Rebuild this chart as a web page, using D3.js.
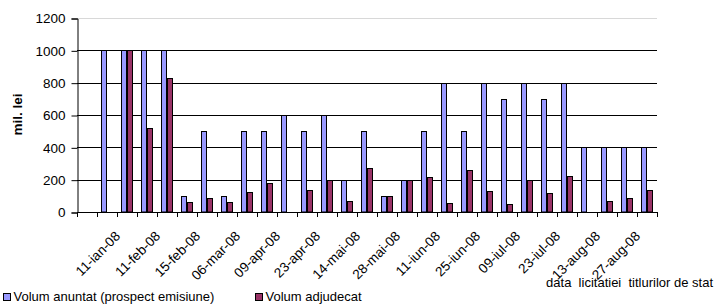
<!DOCTYPE html>
<html>
<head>
<meta charset="utf-8">
<script src="https://cdn.jsdelivr.net/npm/d3@7"></script>
<style>
  html, body { margin: 0; padding: 0; background: #fff; }
  svg { display: block; font-family: Arial, "Liberation Sans", sans-serif; }
</style>
</head>
<body>
<svg id="chart" width="715" height="304"></svg>
<script>
// ---- data ----
const categoryLabels = ["", "11-ian-08", "", "11-feb-08", "", "15-feb-08", "", "06-mar-08", "", "09-apr-08",
  "", "23-apr-08", "", "14-mai-08", "", "28-mai-08", "", "11-iun-08", "", "25-iun-08",
  "", "09-iul-08", "", "23-iul-08", "", "13-aug-08", "", "27-aug-08", ""];
const volumAnuntat = [null, 1000, 1000, 1000, 1000, 100, 500, 100, 500, 500,
  600, 500, 600, 200, 500, 100, 200, 500, 800, 500,
  800, 700, 800, 700, 800, 400, 400, 400, 400];
const volumAdjudecat = [null, null, 1000, 520, 830, 64, 88, 60, 122, 180,
  null, 136, 200, 70, 273, 100, 200, 218, 57, 257,
  131, 47, 196, 117, 220, null, 70, 86, 136];
const yTicks = [0, 200, 400, 600, 800, 1000, 1200];
const seriesNames = ["Volum anuntat (prospect emisiune)", "Volum adjudecat"];
const seriesColors = ["#9999FF", "#993366"];
const yTitle = "mil. lei";
const xTitle = "data  licitatiei  titlurilor de stat";

// ---- layout ----
const svg = d3.select("#chart");
const X0 = 77, X1 = 657, Y0 = 212, Y1 = 18;
const idx = categoryLabels.map((d, i) => i);
const x = d3.scaleBand().domain(idx).range([X0, X1]).padding(0);
const xs = d3.scaleBand().domain([0, 1]).range([4, 16]).padding(0);
const y = d3.scaleLinear().domain([0, 1200]).range([Y0, Y1]);

// top border (1200 line, light)
svg.append("line").attr("x1", X0).attr("x2", X1).attr("y1", y(1200) + 0.5).attr("y2", y(1200) + 0.5)
  .attr("stroke", "#d8d8d8").attr("stroke-width", 1);

// gridlines
svg.append("g").selectAll("line").data(yTicks.filter(t => t > 0 && t < 1200)).join("line")
  .attr("x1", X0).attr("x2", X1)
  .attr("y1", d => Math.round(y(d)) + 0.5).attr("y2", d => Math.round(y(d)) + 0.5)
  .attr("stroke", "#000").attr("stroke-width", 1);

// bars
const series = [volumAnuntat, volumAdjudecat];
series.forEach((vals, s) => {
  svg.append("g").selectAll("rect")
    .data(vals.map((v, i) => ({ i, v })).filter(d => d.v != null && d.v > 0))
    .join("rect")
    .attr("x", d => x(d.i) + xs(s) + 0.5)
    .attr("y", d => Math.round(y(d.v)) + 0.5)
    .attr("width", xs.bandwidth() - 1)
    .attr("height", d => Math.round(Y0 - y(d.v)) - 0.5)
    .attr("fill", seriesColors[s])
    .attr("stroke", "#000").attr("stroke-width", 1);
});

// y axis
const yAxis = d3.axisLeft(y).tickValues(yTicks).tickSize(6).tickPadding(6).tickFormat(d3.format("d"));
const gy = svg.append("g").attr("transform", `translate(${X0 + 0.5},0.5)`).call(yAxis);
gy.select(".domain").attr("stroke", "#000");
gy.selectAll(".tick line").attr("stroke", "#000");
gy.selectAll("text").attr("font-size", 13.5).attr("fill", "#000").attr("font-family", "Arial, 'Liberation Sans', sans-serif");

// x axis line and ticks at category boundaries
svg.append("line").attr("x1", X0).attr("x2", X1 + 1).attr("y1", Y0 + 0.5).attr("y2", Y0 + 0.5).attr("stroke", "#000");
const boundaries = idx.map(i => x(i)).concat([X1]);
svg.append("g").selectAll("line").data(boundaries).join("line")
  .attr("x1", d => Math.round(d) + 0.5).attr("x2", d => Math.round(d) + 0.5)
  .attr("y1", Y0).attr("y2", Y0 + 5).attr("stroke", "#000");

// x labels (rotated)
svg.append("g").selectAll("text")
  .data(idx.filter(i => categoryLabels[i] !== ""))
  .join("text")
  .attr("transform", i => `translate(${x(i) + x.bandwidth() / 2 + 14},237) rotate(-45)`)
  .attr("text-anchor", "end")
  .attr("font-size", 13.5)
  .attr("fill", "#000")
  .text(i => categoryLabels[i]);

// y title
svg.append("text")
  .attr("transform", `translate(22,114.5) rotate(-90)`)
  .attr("text-anchor", "middle")
  .attr("font-size", 13.5).attr("font-weight", "bold").attr("fill", "#000")
  .text(yTitle);

// x title
svg.append("text")
  .attr("x", 713).attr("y", 287)
  .attr("text-anchor", "end")
  .attr("font-size", 13).attr("fill", "#000")
  .style("white-space", "pre")
  .text(xTitle);

// legend
const legendX = [3.5, 255.5];
const lg = svg.append("g").selectAll("g").data(seriesNames).join("g")
  .attr("transform", (d, i) => `translate(${legendX[i]},0)`);
lg.append("rect").attr("x", 0).attr("y", 293.5).attr("width", 7).attr("height", 7)
  .attr("fill", (d, i) => seriesColors[i]).attr("stroke", "#000");
lg.append("text").attr("x", 10).attr("y", 301).attr("font-size", 13).attr("fill", "#000").text(d => d);
</script>
</body>
</html>
